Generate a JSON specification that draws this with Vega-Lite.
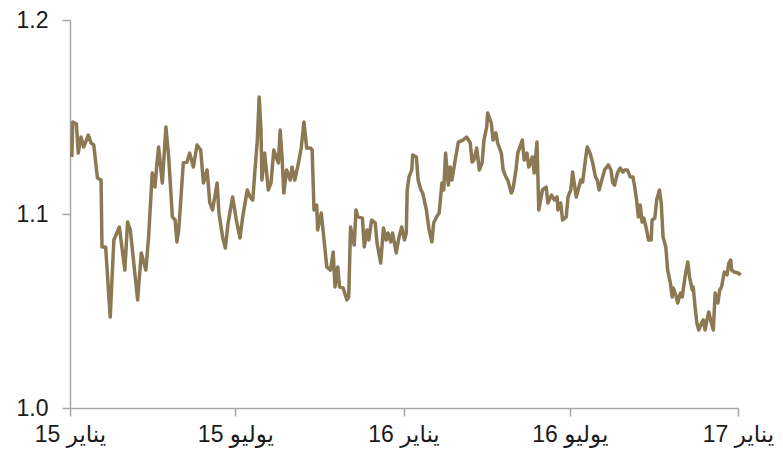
{
  "$schema": "https://vega.github.io/schema/vega-lite/v6.json",
  "width": 668,
  "height": 388,
  "autosize": {"type": "none"},
  "padding": {"left": 70, "top": 20, "right": 45, "bottom": 58},
  "background": "white",
  "config": {"view": {"stroke": null}, "font": "Liberation Sans"},
  "data": {"values": [
    {"date":"2015-01-03","rate":1.1294},{"date":"2015-01-04","rate":1.1474},{"date":"2015-01-08","rate":1.1464},{"date":"2015-01-10","rate":1.1314},
    {"date":"2015-01-13","rate":1.1397},{"date":"2015-01-16","rate":1.1345},{"date":"2015-01-21","rate":1.1407},{"date":"2015-01-24","rate":1.1366},
    {"date":"2015-01-27","rate":1.1356},{"date":"2015-01-31","rate":1.1186},{"date":"2015-02-04","rate":1.1175},{"date":"2015-02-05","rate":1.0830},
    {"date":"2015-02-09","rate":1.0830},{"date":"2015-02-14","rate":1.0469},{"date":"2015-02-18","rate":1.0866},{"date":"2015-02-24","rate":1.0933},
    {"date":"2015-03-02","rate":1.0711},{"date":"2015-03-05","rate":1.0959},{"date":"2015-03-08","rate":1.0918},{"date":"2015-03-16","rate":1.0557},
    {"date":"2015-03-20","rate":1.0799},{"date":"2015-03-25","rate":1.0711},{"date":"2015-03-28","rate":1.0881},{"date":"2015-04-01","rate":1.1211},
    {"date":"2015-04-04","rate":1.1139},{"date":"2015-04-06","rate":1.1253},{"date":"2015-04-08","rate":1.1345},{"date":"2015-04-12","rate":1.1160},
    {"date":"2015-04-16","rate":1.1448},{"date":"2015-04-19","rate":1.1294},{"date":"2015-04-23","rate":1.0985},{"date":"2015-04-26","rate":1.0969},
    {"date":"2015-04-28","rate":1.0856},{"date":"2015-04-30","rate":1.0918},{"date":"2015-05-05","rate":1.1263},{"date":"2015-05-09","rate":1.1268},
    {"date":"2015-05-12","rate":1.1314},{"date":"2015-05-16","rate":1.1242},{"date":"2015-05-20","rate":1.1356},{"date":"2015-05-24","rate":1.1330},
    {"date":"2015-05-27","rate":1.1160},{"date":"2015-05-31","rate":1.1227},{"date":"2015-06-03","rate":1.1057},{"date":"2015-06-06","rate":1.1021},
    {"date":"2015-06-11","rate":1.1160},{"date":"2015-06-13","rate":1.1005},{"date":"2015-06-17","rate":1.0881},{"date":"2015-06-20","rate":1.0825},
    {"date":"2015-06-23","rate":1.0954},{"date":"2015-06-28","rate":1.1088},{"date":"2015-07-02","rate":1.0969},{"date":"2015-07-06","rate":1.0876},
    {"date":"2015-07-09","rate":1.0985},{"date":"2015-07-14","rate":1.1124},{"date":"2015-07-17","rate":1.1088},{"date":"2015-07-20","rate":1.1072},
    {"date":"2015-07-22","rate":1.1201},{"date":"2015-07-25","rate":1.1381},{"date":"2015-07-27","rate":1.1603},{"date":"2015-07-29","rate":1.1433},
    {"date":"2015-07-30","rate":1.1175},{"date":"2015-08-02","rate":1.1314},{"date":"2015-08-06","rate":1.1124},{"date":"2015-08-09","rate":1.1160},
    {"date":"2015-08-12","rate":1.1330},{"date":"2015-08-17","rate":1.1263},{"date":"2015-08-19","rate":1.1433},{"date":"2015-08-21","rate":1.1294},
    {"date":"2015-08-23","rate":1.1108},{"date":"2015-08-26","rate":1.1227},{"date":"2015-08-30","rate":1.1175},{"date":"2015-09-01","rate":1.1242},
    {"date":"2015-09-04","rate":1.1175},{"date":"2015-09-08","rate":1.1263},{"date":"2015-09-11","rate":1.1340},{"date":"2015-09-14","rate":1.1474},
    {"date":"2015-09-17","rate":1.1340},{"date":"2015-09-21","rate":1.1340},{"date":"2015-09-23","rate":1.1330},{"date":"2015-09-25","rate":1.1021},
    {"date":"2015-09-28","rate":1.1046},{"date":"2015-09-29","rate":1.0918},{"date":"2015-10-03","rate":1.1005},{"date":"2015-10-09","rate":1.0727},
    {"date":"2015-10-13","rate":1.0711},{"date":"2015-10-16","rate":1.0804},{"date":"2015-10-18","rate":1.0624},{"date":"2015-10-21","rate":1.0727},
    {"date":"2015-10-23","rate":1.0624},{"date":"2015-10-27","rate":1.0619},{"date":"2015-10-31","rate":1.0557},{"date":"2015-11-02","rate":1.0572},
    {"date":"2015-11-04","rate":1.0933},{"date":"2015-11-08","rate":1.0840},{"date":"2015-11-10","rate":1.1021},{"date":"2015-11-12","rate":1.0985},
    {"date":"2015-11-17","rate":1.0979},{"date":"2015-11-19","rate":1.0830},{"date":"2015-11-22","rate":1.0918},{"date":"2015-11-24","rate":1.0866},
    {"date":"2015-11-27","rate":1.0969},{"date":"2015-12-01","rate":1.0954},{"date":"2015-12-03","rate":1.0851},{"date":"2015-12-07","rate":1.0747},
    {"date":"2015-12-10","rate":1.0928},{"date":"2015-12-13","rate":1.0866},{"date":"2015-12-15","rate":1.0902},{"date":"2015-12-18","rate":1.0856},
    {"date":"2015-12-20","rate":1.0902},{"date":"2015-12-24","rate":1.0799},{"date":"2015-12-27","rate":1.0881},{"date":"2015-12-30","rate":1.0933},
    {"date":"2016-01-02","rate":1.0866},{"date":"2016-01-04","rate":1.0902},{"date":"2016-01-05","rate":1.1124},{"date":"2016-01-07","rate":1.1191},
    {"date":"2016-01-10","rate":1.1227},{"date":"2016-01-11","rate":1.1304},{"date":"2016-01-15","rate":1.1294},{"date":"2016-01-17","rate":1.1175},
    {"date":"2016-01-20","rate":1.1124},{"date":"2016-01-22","rate":1.1108},{"date":"2016-01-26","rate":1.1021},{"date":"2016-01-29","rate":1.0918},
    {"date":"2016-02-01","rate":1.0856},{"date":"2016-02-03","rate":1.0954},{"date":"2016-02-06","rate":1.0985},{"date":"2016-02-09","rate":1.1005},
    {"date":"2016-02-12","rate":1.1160},{"date":"2016-02-14","rate":1.1124},{"date":"2016-02-16","rate":1.1314},{"date":"2016-02-19","rate":1.1149},
    {"date":"2016-02-21","rate":1.1242},{"date":"2016-02-23","rate":1.1175},{"date":"2016-02-26","rate":1.1263},{"date":"2016-03-01","rate":1.1371},
    {"date":"2016-03-06","rate":1.1381},{"date":"2016-03-10","rate":1.1397},{"date":"2016-03-14","rate":1.1366},{"date":"2016-03-16","rate":1.1268},
    {"date":"2016-03-18","rate":1.1278},{"date":"2016-03-21","rate":1.1340},{"date":"2016-03-24","rate":1.1227},{"date":"2016-03-27","rate":1.1263},
    {"date":"2016-03-29","rate":1.1381},{"date":"2016-04-01","rate":1.1448},{"date":"2016-04-02","rate":1.1521},{"date":"2016-04-06","rate":1.1469},
    {"date":"2016-04-08","rate":1.1381},{"date":"2016-04-11","rate":1.1418},{"date":"2016-04-13","rate":1.1366},{"date":"2016-04-17","rate":1.1314},
    {"date":"2016-04-19","rate":1.1227},{"date":"2016-04-22","rate":1.1191},{"date":"2016-04-24","rate":1.1175},{"date":"2016-04-28","rate":1.1108},
    {"date":"2016-04-30","rate":1.1134},{"date":"2016-05-03","rate":1.1227},{"date":"2016-05-05","rate":1.1314},{"date":"2016-05-10","rate":1.1381},
    {"date":"2016-05-12","rate":1.1278},{"date":"2016-05-15","rate":1.1314},{"date":"2016-05-17","rate":1.1242},{"date":"2016-05-21","rate":1.1294},
    {"date":"2016-05-23","rate":1.1211},{"date":"2016-05-26","rate":1.1371},{"date":"2016-05-28","rate":1.1021},{"date":"2016-06-01","rate":1.1124},
    {"date":"2016-06-05","rate":1.1139},{"date":"2016-06-07","rate":1.1057},{"date":"2016-06-11","rate":1.1098},{"date":"2016-06-14","rate":1.1072},
    {"date":"2016-06-17","rate":1.1088},{"date":"2016-06-18","rate":1.1021},{"date":"2016-06-21","rate":1.1057},{"date":"2016-06-23","rate":1.0969},
    {"date":"2016-06-27","rate":1.0985},{"date":"2016-06-29","rate":1.1088},{"date":"2016-07-02","rate":1.1124},{"date":"2016-07-04","rate":1.1216},
    {"date":"2016-07-08","rate":1.1088},{"date":"2016-07-10","rate":1.1124},{"date":"2016-07-13","rate":1.1175},{"date":"2016-07-15","rate":1.1165},
    {"date":"2016-07-18","rate":1.1278},{"date":"2016-07-20","rate":1.1345},{"date":"2016-07-23","rate":1.1314},{"date":"2016-07-26","rate":1.1263},
    {"date":"2016-07-29","rate":1.1191},{"date":"2016-07-31","rate":1.1175},{"date":"2016-08-02","rate":1.1124},{"date":"2016-08-05","rate":1.1175},
    {"date":"2016-08-08","rate":1.1227},{"date":"2016-08-12","rate":1.1253},{"date":"2016-08-15","rate":1.1227},{"date":"2016-08-17","rate":1.1160},
    {"date":"2016-08-19","rate":1.1149},{"date":"2016-08-22","rate":1.1211},{"date":"2016-08-25","rate":1.1237},{"date":"2016-08-28","rate":1.1216},
    {"date":"2016-08-30","rate":1.1227},{"date":"2016-09-02","rate":1.1227},{"date":"2016-09-05","rate":1.1191},{"date":"2016-09-08","rate":1.1191},
    {"date":"2016-09-10","rate":1.1139},{"date":"2016-09-12","rate":1.1072},{"date":"2016-09-14","rate":1.0985},{"date":"2016-09-16","rate":1.1046},
    {"date":"2016-09-18","rate":1.0959},{"date":"2016-09-20","rate":1.0979},{"date":"2016-09-23","rate":1.0918},{"date":"2016-09-25","rate":1.0866},
    {"date":"2016-09-28","rate":1.0866},{"date":"2016-09-29","rate":1.0969},{"date":"2016-10-02","rate":1.0979},{"date":"2016-10-04","rate":1.1072},
    {"date":"2016-10-07","rate":1.1124},{"date":"2016-10-09","rate":1.1057},{"date":"2016-10-11","rate":1.0881},{"date":"2016-10-14","rate":1.0830},
    {"date":"2016-10-16","rate":1.0711},{"date":"2016-10-19","rate":1.0644},{"date":"2016-10-21","rate":1.0572},{"date":"2016-10-22","rate":1.0619},
    {"date":"2016-10-25","rate":1.0582},{"date":"2016-10-27","rate":1.0541},{"date":"2016-10-30","rate":1.0593},{"date":"2016-11-01","rate":1.0572},
    {"date":"2016-11-04","rate":1.0675},{"date":"2016-11-07","rate":1.0753},{"date":"2016-11-09","rate":1.0675},{"date":"2016-11-12","rate":1.0608},
    {"date":"2016-11-13","rate":1.0624},{"date":"2016-11-15","rate":1.0521},{"date":"2016-11-17","rate":1.0438},{"date":"2016-11-19","rate":1.0402},
    {"date":"2016-11-22","rate":1.0438},{"date":"2016-11-24","rate":1.0454},{"date":"2016-11-26","rate":1.0402},{"date":"2016-11-28","rate":1.0454},
    {"date":"2016-11-30","rate":1.0495},{"date":"2016-12-02","rate":1.0454},{"date":"2016-12-05","rate":1.0402},{"date":"2016-12-07","rate":1.0593},
    {"date":"2016-12-10","rate":1.0541},{"date":"2016-12-12","rate":1.0608},{"date":"2016-12-14","rate":1.0624},{"date":"2016-12-17","rate":1.0701},
    {"date":"2016-12-20","rate":1.0686},{"date":"2016-12-22","rate":1.0747},{"date":"2016-12-24","rate":1.0763},{"date":"2016-12-25","rate":1.0711},
    {"date":"2016-12-28","rate":1.0701},{"date":"2017-01-01","rate":1.0696},{"date":"2017-01-04","rate":1.0686}
  ]},
  "mark": {"type": "line", "color": "#8C7853", "strokeWidth": 3.5, "strokeJoin": "round", "clip": false},
  "encoding": {
    "x": {
      "field": "date",
      "type": "temporal",
      "scale": {"type": "utc", "domain": [{"year": 2015, "month": 1, "date": 1, "utc": true}, {"year": 2017, "month": 1, "date": 1, "utc": true}], "nice": false},
      "axis": {
        "title": null,
        "grid": false,
        "values": [
          {"year": 2015, "month": 1, "date": 1, "utc": true},
          {"year": 2015, "month": 7, "date": 1, "utc": true},
          {"year": 2016, "month": 1, "date": 1, "utc": true},
          {"year": 2016, "month": 7, "date": 1, "utc": true},
          {"year": 2017, "month": 1, "date": 1, "utc": true}
        ],
        "labelExpr": "(utcmonth(datum.value) == 0 ? 'يناير ' : 'يوليو ') + (utcyear(datum.value) % 100)",
        "labelFont": "Liberation Sans, DejaVu Sans",
        "labelFontSize": 23,
        "labelColor": "#1a1a1a",
        "labelPadding": 7,
        "labelFlush": false,
        "labelOverlap": false,
        "tickSize": 8,
        "tickColor": "#A6A6A6",
        "domainColor": "#A6A6A6",
        "tickWidth": 1.5,
        "domainWidth": 1.5
      }
    },
    "y": {
      "field": "rate",
      "type": "quantitative",
      "scale": {"domain": [1.0, 1.2], "nice": false, "zero": false},
      "axis": {
        "title": null,
        "grid": false,
        "values": [1.0, 1.1, 1.2],
        "format": ".1f",
        "labelFont": "Liberation Sans, DejaVu Sans",
        "labelFontSize": 23,
        "labelColor": "#1a1a1a",
        "labelPadding": 14,
        "tickSize": 8,
        "tickColor": "#A6A6A6",
        "domainColor": "#A6A6A6",
        "tickWidth": 1.5,
        "domainWidth": 1.5
      }
    }
  }
}
